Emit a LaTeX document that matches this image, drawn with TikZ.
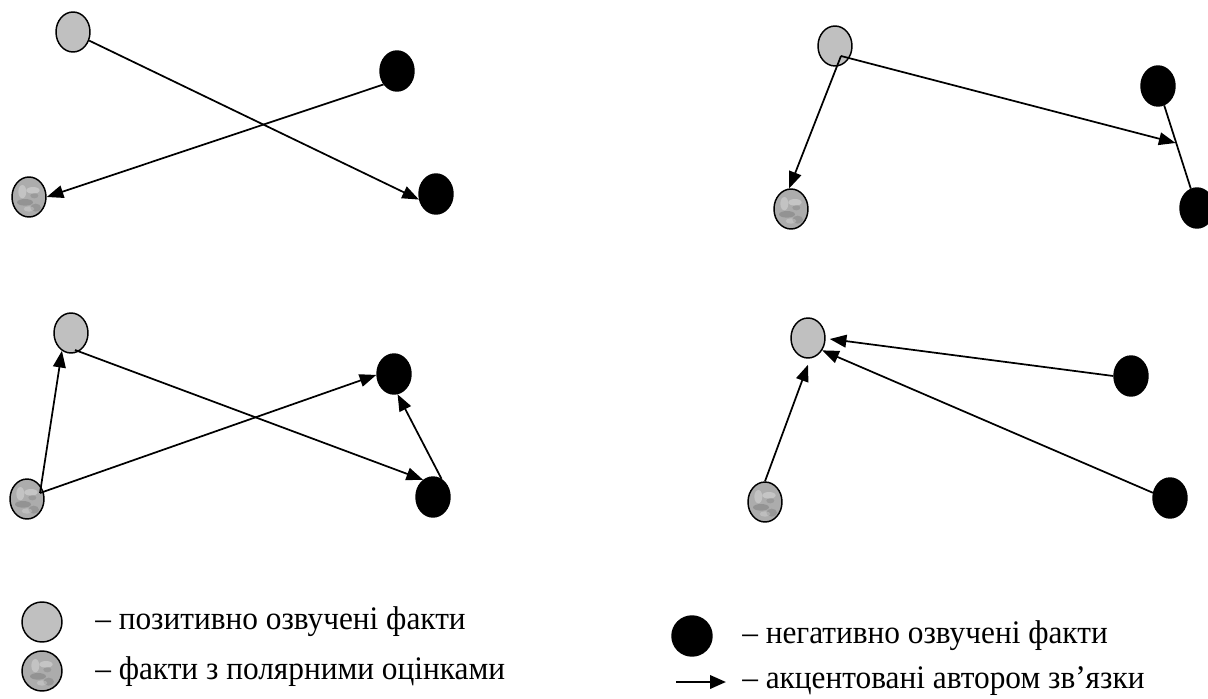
\documentclass[tikz,border=0pt]{standalone}
\usepackage{fontspec}
\setmainfont{Liberation Serif}
\usetikzlibrary{shapes.geometric,arrows.meta,calc}
\tikzset{
  factnode/.style={ellipse,draw=black,line width=1.1pt,minimum width=25.5pt,minimum height=30pt,inner sep=0pt},
  posfact/.style={factnode,fill={rgb,255:red,192;green,192;blue,192}},
  negfact/.style={factnode,fill=black},
  polarfact/.style={factnode,fill={rgb,255:red,172;green,172;blue,172},
    path picture={
      \fill[black,opacity=0.14] ($(path picture bounding box.center)+(-3pt,-4pt)$) ellipse (6pt and 2.5pt);
      \fill[white,opacity=0.3] ($(path picture bounding box.center)+(3pt,5pt)$) ellipse (5pt and 2.5pt);
      \fill[black,opacity=0.12] ($(path picture bounding box.center)+(5pt,-8pt)$) ellipse (4pt and 3pt);
      \fill[white,opacity=0.28] ($(path picture bounding box.center)+(-5pt,4pt)$) ellipse (3pt and 5pt);
      \fill[black,opacity=0.1] ($(path picture bounding box.center)+(4pt,1pt)$) ellipse (3pt and 2pt);
      \fill[white,opacity=0.22] ($(path picture bounding box.center)+(0pt,-9pt)$) ellipse (4pt and 2pt);
    }},
  legendsize/.style={minimum width=30pt,minimum height=30pt},
  linkarrow/.style={line width=1.3pt,-{Triangle[length=12.5pt,width=9.5pt]}},
  legendarrow/.style={line width=2pt,-{Triangle[length=12pt,width=10pt]}},
  plainline/.style={line width=1.3pt},
  lbl/.style={anchor=west,inner sep=0pt,font=\fontsize{23.5}{28}\selectfont}
}
\newcommand{\tallt}[1]{\scalebox{1}[1.05]{#1}}
\begin{document}
\begin{tikzpicture}[x=0.75pt,y=-0.75pt]
\useasboundingbox (0,0) rectangle (1208,699);
% panel 1
\node[posfact] (a1) at (73,32) {};
\node[negfact] (b1) at (397,71) {};
\node[polarfact] (c1) at (29,197) {};
\node[negfact] (d1) at (436,194) {};
\draw[linkarrow] (a1.-28) -- (d1.198);
\draw[linkarrow] (b1.225) -- (c1.east);
% panel 2
\node[posfact] (a2) at (835,46) {};
\node[negfact] (b2) at (1158,86) {};
\node[negfact] (d2) at (1197,208) {};
\node[polarfact] (c2) at (791,209) {};
\coordinate (a2in) at ($(a2)+(6,10)$);
\draw[plainline] (b2) -- (d2);
\coordinate (mid2) at ($(b2.south)!0.45!(d2.north)$);
\draw[linkarrow] (a2in) -- (mid2);
\draw[linkarrow] (a2in) -- (c2.95);
% panel 3
\node[posfact] (a3) at (71,333) {};
\node[negfact] (b3) at (394,374) {};
\node[negfact] (d3) at (433,497) {};
\node[polarfact] (c3) at (27,499) {};
\coordinate (c3in) at ($(c3)+(13,-6)$);
\coordinate (a3in) at ($(a3)+(4,17)$);
\draw[linkarrow] (c3in) -- (a3.243);
\draw[linkarrow] (c3in) -- (b3.183);
\draw[linkarrow] (a3in) -- (d3.120);
\draw[linkarrow] (d3.65) -- (b3.-80);
% panel 4
\node[posfact] (a4) at (808,338) {};
\node[negfact] (b4) at (1131,376) {};
\node[negfact] (d4) at (1170,498) {};
\node[polarfact] (c4) at (765,502) {};
\draw[linkarrow] (b4.west) -- ($(a4.east)+(4,1)$);
\draw[linkarrow] (d4.163) -- (a4.-41);
\draw[linkarrow] (c4.north) -- ($(a4.south)+(0,6)$);
% legend
\node[posfact,legendsize] (lp) at (42,622) {};
\node[lbl] (tp) at (95,622) {\tallt{– позитивно озвучені факти}};
\node[polarfact,legendsize] (lc) at (42,671) {};
\node[lbl] (tc) at (95,672) {\tallt{– факти з полярними оцінками}};
\node[negfact,legendsize] (ln) at (692,636) {};
\node[lbl] (tn) at (742,636) {\tallt{– негативно озвучені факти}};
\coordinate (la0) at (676,682);
\coordinate (la1) at (726,682);
\draw[legendarrow] (la0) -- (la1);
\node[lbl] (ta) at (742,681) {\tallt{– акцентовані автором зв’язки}};
\end{tikzpicture}
\end{document}
